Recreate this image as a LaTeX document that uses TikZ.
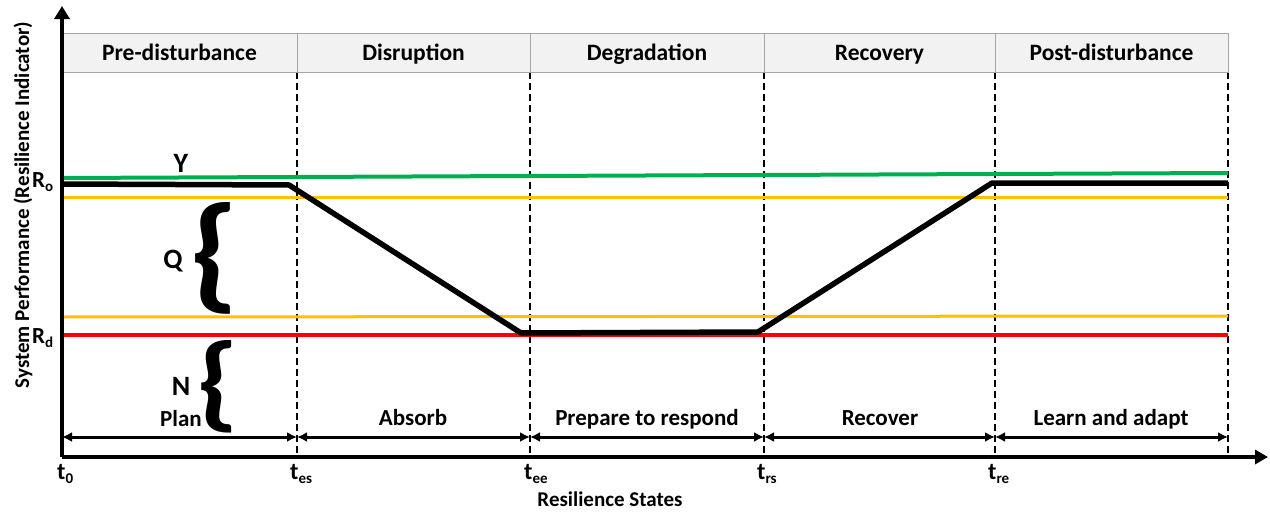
\documentclass[tikz,border=0pt]{standalone}
\usepackage{fontspec}
\setmainfont{Carlito}
\usetikzlibrary{arrows.meta}
\definecolor{perfgreen}{HTML}{00B050}
\definecolor{perfyellow}{HTML}{FFC000}
\definecolor{perfred}{HTML}{FF0000}
\definecolor{headfill}{HTML}{F2F2F2}
\definecolor{headline}{HTML}{A6A6A6}
\newcommand{\sbs}[1]{{\fontsize{15}{15}\selectfont\raisebox{-4.5pt}{#1}}}
\newcommand{\bigbrace}[2]{\resizebox{#1}{#2}{\bfseries\{}}
\begin{document}
\begin{tikzpicture}[x=1pt,y=-1pt,
  axis/.style={line width=4pt},
  boundary/.style={line width=1.3pt, dash pattern=on 7pt off 4pt},
  phasebox/.style={draw=headline, fill=headfill, line width=1pt, minimum height=39pt,
    inner sep=0pt, text height=16pt, text depth=1pt,
    font=\fontsize{23.5}{26}\selectfont\bfseries},
  stagearrow/.style={line width=3pt, {Latex[length=10pt,width=10pt]}-{Latex[length=10pt,width=10pt]}},
  stagelbl/.style={inner sep=0pt, anchor=base, font=\fontsize{23}{26}\selectfont\bfseries},
  biglbl/.style={inner sep=0pt, anchor=base, font=\fontsize{28}{30}\selectfont\bfseries},
  ticklbl/.style={inner sep=0pt, anchor=base west, font=\fontsize{24}{26}\selectfont\bfseries},
  axislbl/.style={inner sep=0pt, anchor=base, font=\fontsize{21}{24}\selectfont\bfseries},
  level/.style={line width=#1},
  bracket/.style={inner sep=0pt, outer sep=0pt},
  perf/.style={line width=5.5pt, line join=round}]
\useasboundingbox (0,0) rectangle (1270,514);

% time instants on the axis and at the top of the chart
\foreach \n/\x in {0/62, es/297, ee/530, rs/764, re/995, end/1228} {
  \coordinate (top\n) at (\x,72);
  \coordinate (bot\n) at (\x,457);
  \coordinate (arr\n) at (\x,437);
}

% state boundaries
\foreach \n in {es, ee, rs, re, end}
  \draw[boundary] (top\n) -- (bot\n);

% header of phases
\node[phasebox, minimum width=235pt] (hpre) at (179.5,52.5) {Pre-disturbance};
\node[phasebox, minimum width=233pt] (hdis) at (413.5,52.5) {Disruption};
\node[phasebox, minimum width=234pt] (hdeg) at (647,52.5) {Degradation};
\node[phasebox, minimum width=231pt] (hrec) at (879.5,52.5) {Recovery};
\node[phasebox, minimum width=233pt] (hpost) at (1111.5,52.5) {Post-disturbance};

% performance levels
\coordinate (gL) at (62,178);   \coordinate (gR) at (1228,173);
\coordinate (yaL) at (62,197);  \coordinate (yaR) at (1228,197);
\coordinate (ybL) at (62,317);  \coordinate (ybR) at (1228,316);
\coordinate (rL) at (62,335);   \coordinate (rR) at (1228,335);
\draw[level=4pt, perfgreen] (gL) -- (gR);
\draw[level=3pt, perfyellow] (yaL) -- (yaR);
\draw[level=3pt, perfyellow] (ybL) -- (ybR);
\draw[level=3.5pt, perfred] (rL) -- (rR);

% resilience curve
\coordinate (p0) at (62,184);
\coordinate (p1) at (289,185);
\coordinate (p2) at (521,333);
\coordinate (p3) at (758,332);
\coordinate (p4) at (992,183);
\coordinate (p5) at (1228,183);
\draw[perf] (p0) -- (p1) -- (p2) -- (p3) -- (p4) -- (p5);

% axes
\coordinate (origin) at (62,457);
\coordinate (ytip) at (62,6);
\coordinate (xtip) at (1268,457);
\draw[axis, -{Triangle[length=13pt,width=15pt]}] (origin) -- (ytip);
\draw[axis, -{Triangle[length=13pt,width=14pt]}] (origin) -- (xtip);

% stage arrows
\draw[stagearrow] (arr0) -- (arres);
\draw[stagearrow] (arres) -- (arree);
\draw[stagearrow] (arree) -- (arrrs);
\draw[stagearrow] (arrrs) -- (arrre);
\draw[stagearrow] (arrre) -- (arrend);
\node[stagelbl] (lplan) at (181,426) {Plan};
\node[stagelbl] (labs) at (413,425) {Absorb};
\node[stagelbl] (lprep) at (647,425) {Prepare to respond};
\node[stagelbl] (lrec) at (880,425) {Recover};
\node[stagelbl] (llearn) at (1111,425) {Learn and adapt};

% braces and levels
\node[bracket] (qbrace) at (214,258) {\bigbrace{50pt}{93pt}};
\node[bracket] (nbrace) at (218,386.5) {\bigbrace{43pt}{77pt}};
\node[biglbl] (Ylbl) at (181,172) {Y};
\node[biglbl] (Qlbl) at (173,268) {Q};
\node[biglbl] (Nlbl) at (181,395) {N};

% level marks on the vertical axis
\node[ticklbl, font=\fontsize{23}{26}\selectfont\bfseries] (Ro) at (32,187) {R\sbs{o}};
\node[ticklbl, font=\fontsize{23}{26}\selectfont\bfseries] (Rd) at (32,343) {R\sbs{d}};

% time marks
\node[ticklbl] (t0) at (57,479) {t\sbs{0}};
\node[ticklbl] (tes) at (290,479) {t\sbs{es}};
\node[ticklbl] (tee) at (524,479) {t\sbs{ee}};
\node[ticklbl] (trs) at (757,479) {t\sbs{rs}};
\node[ticklbl] (tre) at (988,479) {t\sbs{re}};

% axis titles
\node[axislbl] (xtitle) at (610,506) {Resilience States};
\node[axislbl, rotate=90] (ytitle) at (29,205) {System Performance (Resilience Indicator)};
\end{tikzpicture}
\end{document}
